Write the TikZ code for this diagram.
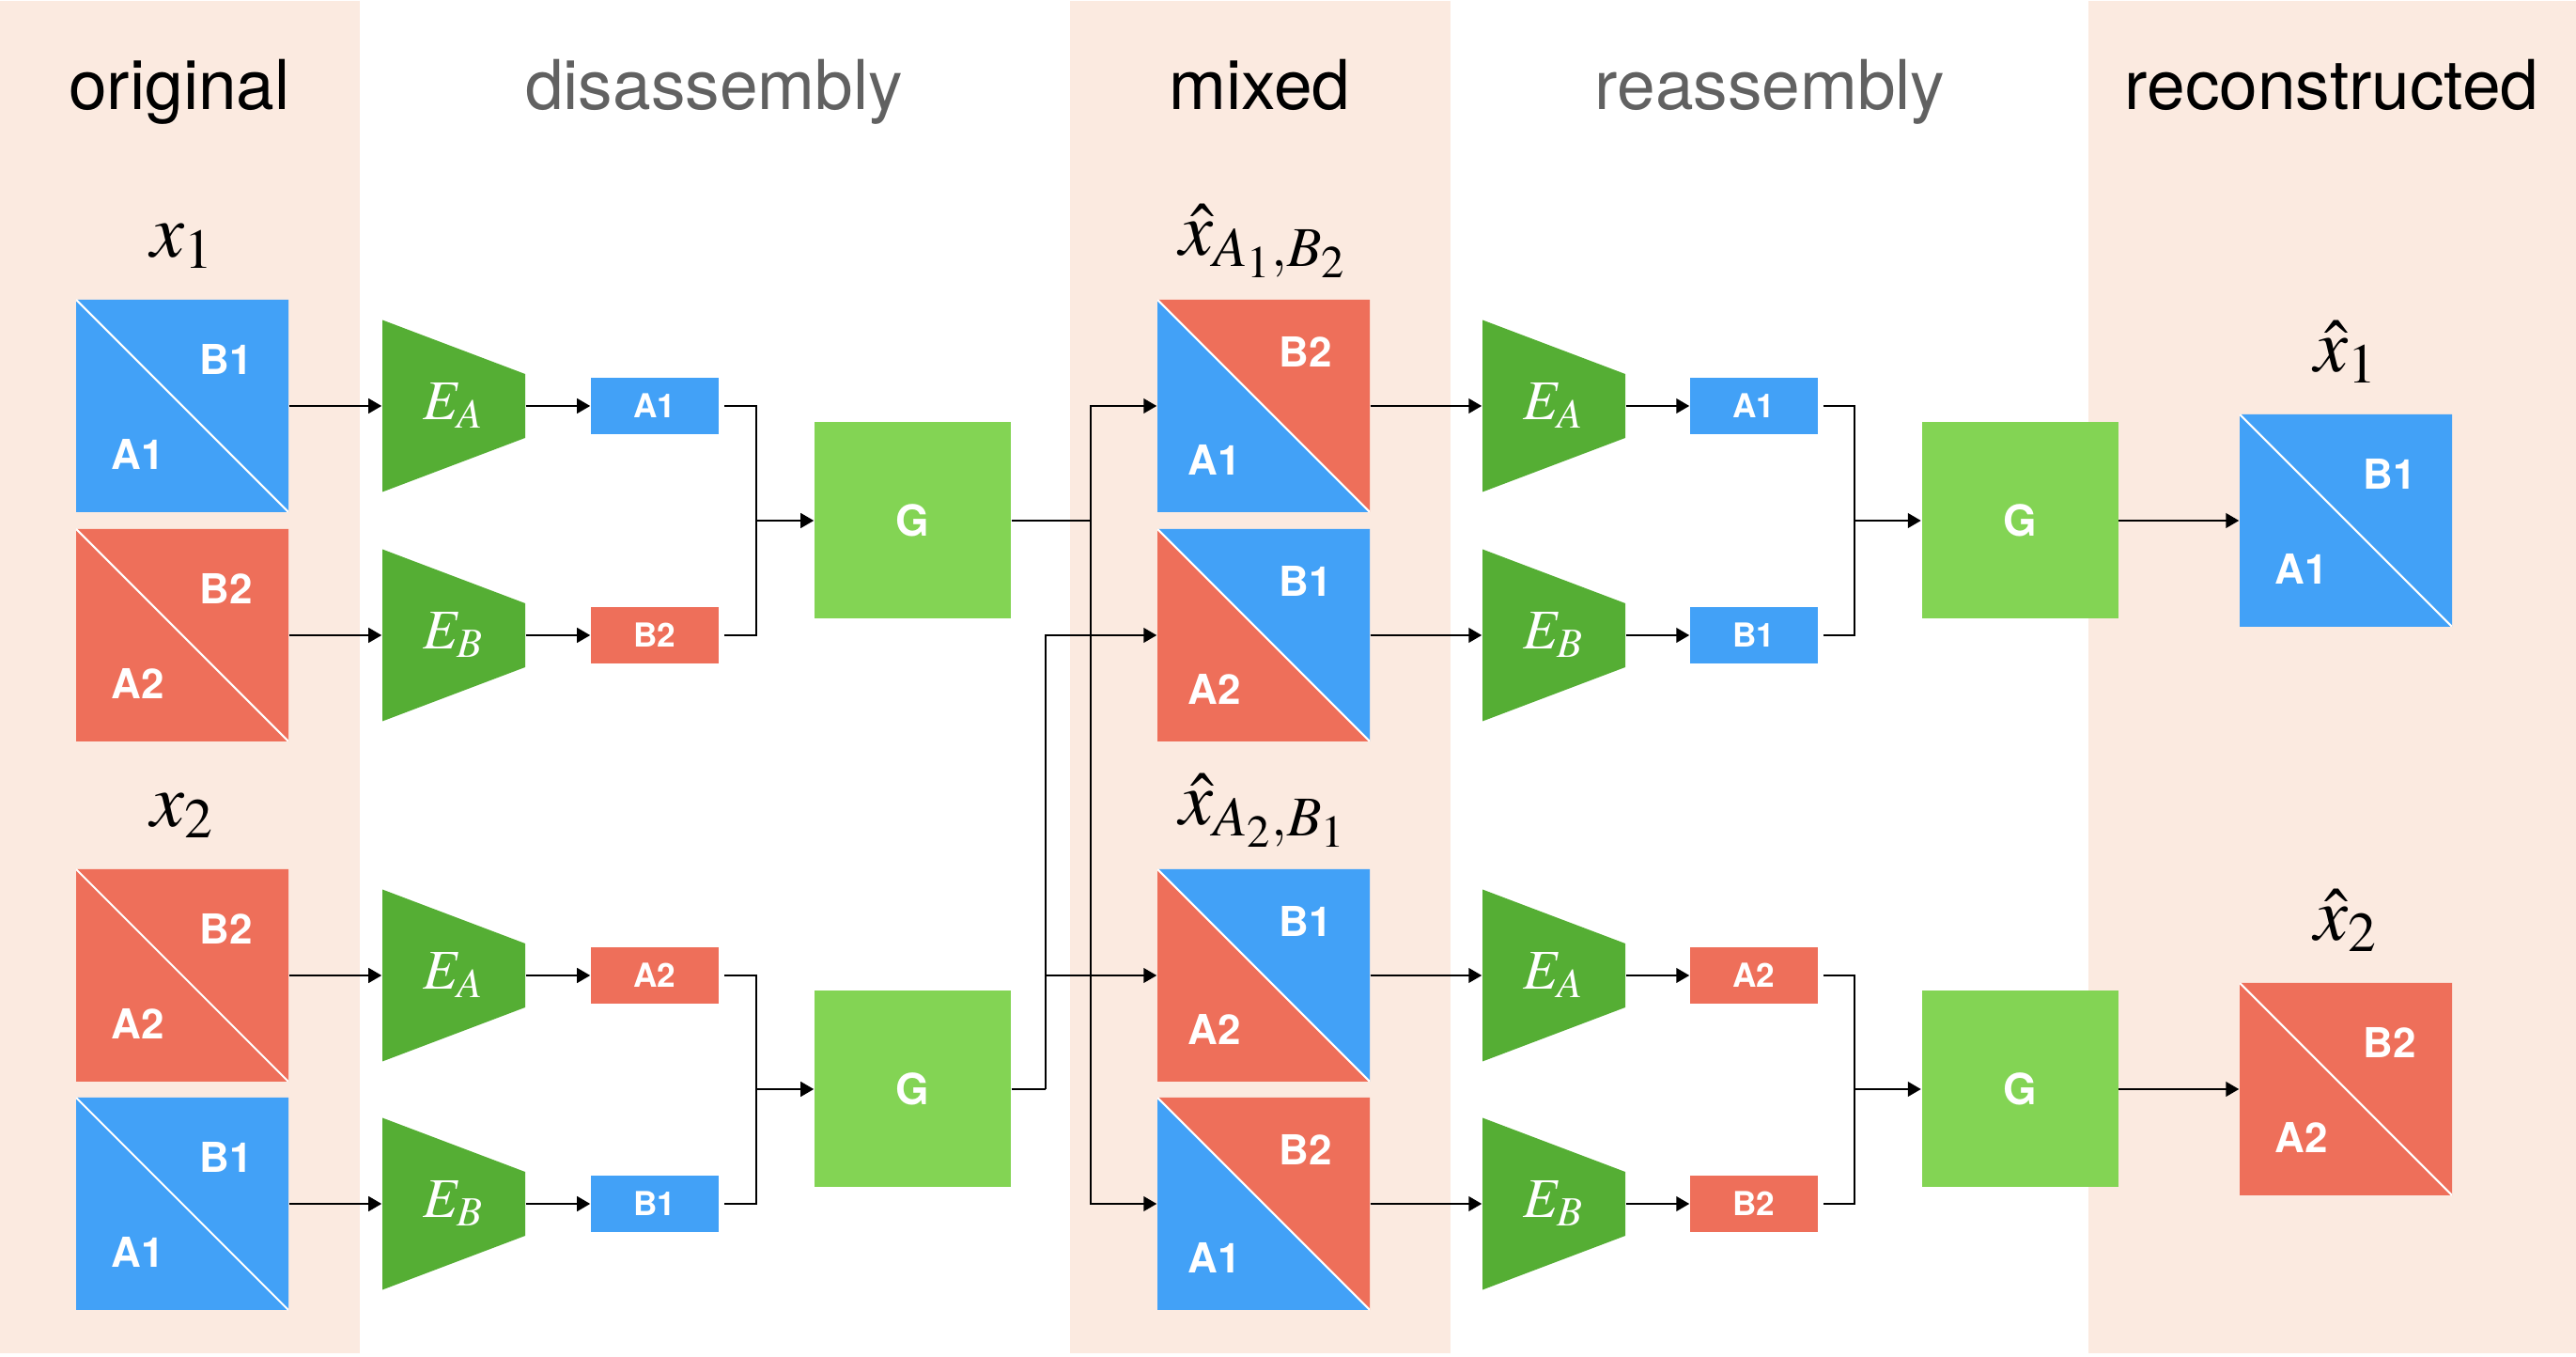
\documentclass[tikz,border=0pt]{standalone}
\usepackage{mathptmx}
\usepackage{fontspec}
\setmainfont{TeX Gyre Heros}
\usepackage{tikz}
\usetikzlibrary{arrows.meta,positioning,calc}

\definecolor{peach}{RGB}{251,234,224}
\definecolor{partA}{RGB}{66,161,247}
\definecolor{partB}{RGB}{238,111,90}
\definecolor{encgreen}{RGB}{85,174,52}
\definecolor{gengreen}{RGB}{131,212,84}
\definecolor{headgray}{RGB}{97,97,97}

\begin{document}
\begin{tikzpicture}[
  img/.style 2 args = {minimum size = 2.26cm, inner sep = 0pt, fill = #1,
    path picture = {\fill[#2] (path picture bounding box.north west) -- (path picture bounding box.north east) -- (path picture bounding box.south east) -- cycle;
      \draw[white, line width = 0.6pt] (path picture bounding box.north west) -- (path picture bounding box.south east);}},
  enc/.style = {minimum width = 1.52cm, minimum height = 1.83cm, inner sep = 0pt, fill = white, text = white,
    font = \fontsize{17}{20}\selectfont,
    path picture = {\fill[encgreen] (path picture bounding box.north west) -- ([yshift = -0.575cm]path picture bounding box.north east) -- ([yshift = 0.575cm]path picture bounding box.south east) -- (path picture bounding box.south west) -- cycle;}},
  tok/.style = {minimum width = 1.36cm, minimum height = 0.6cm, inner sep = 0pt, fill = #1, text = white,
    font = \fontsize{10}{12}\selectfont\bfseries},
  gen/.style = {minimum size = 2.09cm, inner sep = 0pt, fill = gengreen, text = white,
    font = \fontsize{13}{15}\selectfont\bfseries},
  tag/.style = {inner sep = 0pt, text = white, font = \fontsize{12.5}{15}\selectfont\bfseries},
  head/.style = {anchor = base, inner sep = 0pt, font = \fontsize{20.8}{25}\selectfont},
  var/.style = {anchor = base, inner sep = 0pt, font = \fontsize{23}{28}\selectfont},
  wire/.style = {line width = 0.8pt, shorten <= 1.5pt},
  arr/.style = {-{Triangle[length = 4pt, width = 4.4pt]}, line width = 0.8pt}
]

\useasboundingbox (0,0) rectangle (27.42,14.43);

\fill[peach] (0,0.03) rectangle (3.83,14.42);
\fill[peach] (11.39,0.03) rectangle (15.44,14.42);
\fill[peach] (22.23,0.03) rectangle (27.42,14.42);

\node[head] (horig) at (1.91,13.26) {original};
\node[head, text = headgray] (hdis) at (7.6,13.26) {disassembly};
\node[head] (hmix) at (13.41,13.26) {mixed};
\node[head, text = headgray] (hre) at (18.84,13.26) {reassembly};
\node[head] (hrec) at (24.82,13.26) {reconstructed};

%%%%%%%%%%%%%%%%%%%%%%%%%%%%%%%%

\node[img = {partA}{partA}] (o1) at (1.94,10.11) {};
\node[img = {partB}{partB}] (o2) at (1.94,7.67) {};
\node[img = {partB}{partB}] (o3) at (1.94,4.05) {};
\node[img = {partA}{partA}] (o4) at (1.94,1.62) {};

\node[tag] (o1b) at ([shift = {(0.47,0.5)}]o1.center) {B1};
\node[tag] (o1a) at ([shift = {(-0.47,-0.51)}]o1.center) {A1};
\node[tag] (o2b) at ([shift = {(0.47,0.5)}]o2.center) {B2};
\node[tag] (o2a) at ([shift = {(-0.47,-0.51)}]o2.center) {A2};
\node[tag] (o3b) at ([shift = {(0.47,0.5)}]o3.center) {B2};
\node[tag] (o3a) at ([shift = {(-0.47,-0.51)}]o3.center) {A2};
\node[tag] (o4b) at ([shift = {(0.47,0.5)}]o4.center) {B1};
\node[tag] (o4a) at ([shift = {(-0.47,-0.51)}]o4.center) {A1};

\node[var] (vx1) at ([yshift = 0.45cm]o1.north) {$x_1$};
\node[var] (vx2) at ([yshift = 0.45cm]o3.north) {$x_2$};

\node[enc] (ea1) at (4.83,10.11) {$E_A$};
\node[enc] (eb1) at (4.83,7.67) {$E_B$};
\node[enc] (ea2) at (4.83,4.05) {$E_A$};
\node[enc] (eb2) at (4.83,1.62) {$E_B$};

\node[tok = partA] (s1) at (6.97,10.11) {A1};
\node[tok = partB] (s2) at (6.97,7.67) {B2};
\node[tok = partB] (s3) at (6.97,4.05) {A2};
\node[tok = partA] (s4) at (6.97,1.62) {B1};

\node[gen] (g1) at (9.715,8.89) {G};
\node[gen] (g2) at (9.715,2.84) {G};

\coordinate (jl1) at (8.05,8.89);
\coordinate (jl2) at (8.05,2.84);

\draw[arr] (o1.east) -- (ea1.west);
\draw[arr] (o2.east) -- (eb1.west);
\draw[arr] (o3.east) -- (ea2.west);
\draw[arr] (o4.east) -- (eb2.west);

\draw[arr] (ea1.east) -- (s1.west);
\draw[arr] (eb1.east) -- (s2.west);
\draw[arr] (ea2.east) -- (s3.west);
\draw[arr] (eb2.east) -- (s4.west);

\draw[wire] (s1.east) -| (jl1);
\draw[wire] (s2.east) -| (jl1);
\draw[arr] (jl1) -- (g1.west);
\draw[wire] (s3.east) -| (jl2);
\draw[wire] (s4.east) -| (jl2);
\draw[arr] (jl2) -- (g2.west);

%%%%%%%%%%%%%%%%%%%%%%%%%%%%%%%%

\node[img = {partA}{partB}] (m1) at (13.45,10.11) {};
\node[img = {partB}{partA}] (m2) at (13.45,7.67) {};
\node[img = {partB}{partA}] (m3) at (13.45,4.05) {};
\node[img = {partA}{partB}] (m4) at (13.45,1.62) {};

\node[tag] (m1b) at ([shift = {(0.45,0.58)}]m1.center) {B2};
\node[tag] (m1a) at ([shift = {(-0.52,-0.57)}]m1.center) {A1};
\node[tag] (m2b) at ([shift = {(0.45,0.58)}]m2.center) {B1};
\node[tag] (m2a) at ([shift = {(-0.52,-0.57)}]m2.center) {A2};
\node[tag] (m3b) at ([shift = {(0.45,0.58)}]m3.center) {B1};
\node[tag] (m3a) at ([shift = {(-0.52,-0.57)}]m3.center) {A2};
\node[tag] (m4b) at ([shift = {(0.45,0.58)}]m4.center) {B2};
\node[tag] (m4a) at ([shift = {(-0.52,-0.57)}]m4.center) {A1};

\node[var] (vm1) at ([yshift = 0.47cm]m1.north) {$\hat{x}_{A_1,B_2}$};
\node[var] (vm2) at ([yshift = 0.47cm]m3.north) {$\hat{x}_{A_2,B_1}$};

\coordinate (jm1) at (11.61,8.89);
\coordinate (jm2) at (11.13,2.84);

\draw[line width = 0.8pt] (g1.east) -- (jm1);
\draw[arr] (jm1) |- (m1.west);
\draw[arr] (jm1) |- (m4.west);
\draw[line width = 0.8pt] (g2.east) -- (jm2);
\draw[arr] (jm2) |- (m2.west);
\draw[arr] (jm2) |- (m3.west);

%%%%%%%%%%%%%%%%%%%%%%%%%%%%%%%%

\node[enc] (ea3) at (16.54,10.11) {$E_A$};
\node[enc] (eb3) at (16.54,7.67) {$E_B$};
\node[enc] (ea4) at (16.54,4.05) {$E_A$};
\node[enc] (eb4) at (16.54,1.62) {$E_B$};

\node[tok = partA] (s5) at (18.67,10.11) {A1};
\node[tok = partA] (s6) at (18.67,7.67) {B1};
\node[tok = partB] (s7) at (18.67,4.05) {A2};
\node[tok = partB] (s8) at (18.67,1.62) {B2};

\node[gen] (g3) at (21.5,8.89) {G};
\node[gen] (g4) at (21.5,2.84) {G};

\coordinate (jr1) at (19.74,8.89);
\coordinate (jr2) at (19.74,2.84);

\draw[arr] (m1.east) -- (ea3.west);
\draw[arr] (m2.east) -- (eb3.west);
\draw[arr] (m3.east) -- (ea4.west);
\draw[arr] (m4.east) -- (eb4.west);

\draw[arr] (ea3.east) -- (s5.west);
\draw[arr] (eb3.east) -- (s6.west);
\draw[arr] (ea4.east) -- (s7.west);
\draw[arr] (eb4.east) -- (s8.west);

\draw[wire] (s5.east) -| (jr1);
\draw[wire] (s6.east) -| (jr1);
\draw[arr] (jr1) -- (g3.west);
\draw[wire] (s7.east) -| (jr2);
\draw[wire] (s8.east) -| (jr2);
\draw[arr] (jr2) -- (g4.west);

%%%%%%%%%%%%%%%%%%%%%%%%%%%%%%%%

\node[img = {partA}{partA}] (rc1) at (24.97,8.89) {};
\node[img = {partB}{partB}] (rc2) at (24.97,2.84) {};

\node[tag] (rc1b) at ([shift = {(0.47,0.5)}]rc1.center) {B1};
\node[tag] (rc1a) at ([shift = {(-0.47,-0.51)}]rc1.center) {A1};
\node[tag] (rc2b) at ([shift = {(0.47,0.5)}]rc2.center) {B2};
\node[tag] (rc2a) at ([shift = {(-0.47,-0.51)}]rc2.center) {A2};

\node[var] (vr1) at ([yshift = 0.45cm]rc1.north) {$\hat{x}_1$};
\node[var] (vr2) at ([yshift = 0.45cm]rc2.north) {$\hat{x}_2$};

\draw[arr] (g3.east) -- (rc1.west);
\draw[arr] (g4.east) -- (rc2.west);

\end{tikzpicture}
\end{document}
